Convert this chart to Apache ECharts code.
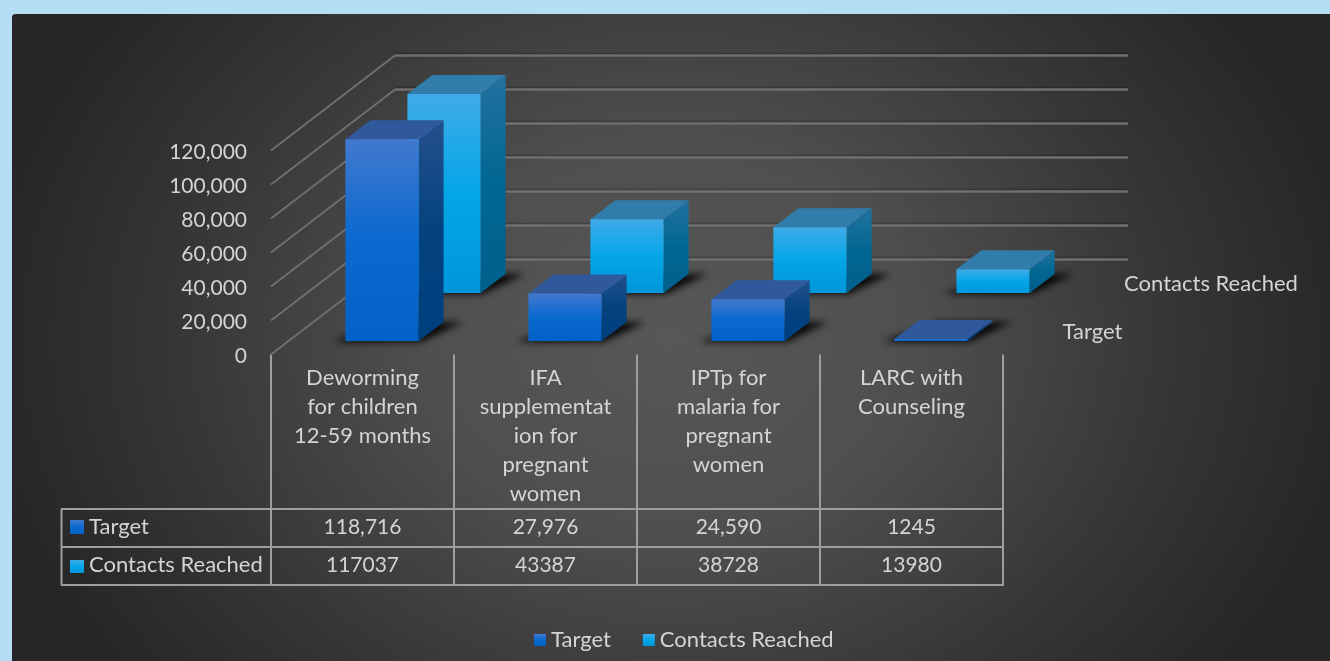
<!DOCTYPE html>
<html>
<head>
<meta charset="utf-8">
<style>html,body{margin:0;padding:0;background:#b5ddf3}#c{width:1330px;height:661px}</style>
<script src="https://cdn.jsdelivr.net/npm/echarts@6/dist/echarts.min.js"></script>
</head>
<body>
<div id="c"></div>
<script>
const categories = [
  'Deworming\nfor children\n12-59 months',
  'IFA\nsupplementat\nion for\npregnant\nwomen',
  'IPTp for\nmalaria for\npregnant\nwomen',
  'LARC with\nCounseling'
];
const targetValues = [118716, 27976, 24590, 1245];
const contactsValues = [117037, 43387, 38728, 13980];
const targetTableLabels = ['118,716', '27,976', '24,590', '1245'];
const contactsTableLabels = ['117037', '43387', '38728', '13980'];
const seriesNames = ['Target', 'Contacts Reached'];
const wallTicks = [0, 20000, 40000, 60000, 80000, 100000, 120000];

const FONT = 'Lato, "Open Sans", sans-serif';
const TEXT = '#d4d4d4';
const LINE = '#9e9e9e';
const v = (a, b, c) => ({type:'linear',x:0,y:0,x2:0,y2:1,colorStops:[{offset:0,color:a},{offset:.5,color:b},{offset:1,color:c}]});
const skins = {
  target: {front:v('#4179cf','#0a69cf','#0362c6'), side:v('#24508c','#04437f','#003f7e'), top:'#30599b', key:v('#3f78cf','#0a69cf','#0362c6')},
  contacts: {front:v('#40abe8','#03a6e8','#0096da'), side:v('#22719f','#006792','#00608c'), top:'#307dab', key:v('#3fabe8','#03a6e8','#0096da')}
};
const DX = 25, DY = 19, OFF = 3000;

function bar3d(skin, baseLift, shiftX) {
  return function (params, api) {
    const i = api.value(0);
    const centre = api.coord([i, 0]);
    const top = api.coord([i, api.value(1)]);
    const w = api.size([1, 0])[0] * 0.4;
    const x0 = centre[0] + shiftX - w / 2, x1 = x0 + w;
    const base = centre[1] - baseLift;
    const y1 = top[1] - baseLift;
    return {type:'group', children:[
      // blurred floor shadow: the shape sits off canvas and only its shadow lands on the floor
      {type:'polygon', shape:{points:[[x0-13-OFF,base+1],[x1+2-OFF,base+1],[x1+DX+19-OFF,base-DY],[x0+DX+19-OFF,base-DY]]},
        style:{fill:'#000', shadowBlur:7, shadowColor:'rgba(0,0,0,.9)', shadowOffsetX:OFF}},
      {type:'polygon', shape:{points:[[x1,base],[x1+DX,base-DY],[x1+DX,y1-DY],[x1,y1]]}, style:{fill:skin.side}},
      {type:'polygon', shape:{points:[[x0,y1],[x1,y1],[x1+DX,y1-DY],[x0+DX,y1-DY]]}, style:{fill:skin.top}},
      {type:'rect', shape:{x:x0,y:y1,width:w,height:Math.max(base-y1,1)}, style:{fill:skin.front}}
    ]};
  };
}

const option = {
  animation:false,
  backgroundColor:'#b5ddf3',
  textStyle:{fontFamily:FONT},
  graphic:{elements:[
    {type:'rect', z:-100, silent:true, x:671, y:338, scaleY:0.8,
      shape:{x:-659,y:-405,width:1400,height:900,r:4},
      style:{fill:new echarts.graphic.RadialGradient(0,0,690,[
        {offset:0,color:'#575757'},{offset:.35,color:'#4f4f4f'},{offset:.72,color:'#363636'},{offset:1,color:'#262626'}],true)}},
    ...[509,547,585].map(y=>({type:'line',z:1,silent:true,shape:{x1:61,y1:y,x2:1004,y2:y},style:{stroke:LINE,lineWidth:2}})),
    {type:'line',z:1,silent:true,shape:{x1:61.5,y1:509,x2:61.5,y2:585},style:{stroke:LINE,lineWidth:2}},
    {type:'rect',z:2,silent:true,shape:{x:70,y:520,width:14,height:14},style:{fill:skins.target.key}},
    {type:'rect',z:2,silent:true,shape:{x:70,y:560,width:14,height:13},style:{fill:skins.contacts.key}},
    {type:'text',z:2,silent:true,x:89,y:527,style:{text:seriesNames[0],font:'22px '+FONT,fill:TEXT,verticalAlign:'middle'}},
    {type:'text',z:2,silent:true,x:89,y:565,style:{text:seriesNames[1],font:'22px '+FONT,fill:TEXT,verticalAlign:'middle'}},
    {type:'text',z:2,silent:true,x:1092.5,y:332,style:{text:seriesNames[0],font:'22px '+FONT,fill:TEXT,align:'center',verticalAlign:'middle'}},
    {type:'text',z:2,silent:true,x:1211,y:284,style:{text:seriesNames[1],font:'22px '+FONT,fill:TEXT,align:'center',verticalAlign:'middle'}}
  ]},
  legend:{
    data:seriesNames, left:529, top:624, itemWidth:12, itemHeight:12, itemGap:32, icon:'rect',
    textStyle:{color:TEXT,fontSize:22,fontFamily:FONT}
  },
  grid:[
    {left:271, width:732, top:150.5, height:204},
    {left:395, width:733, top:55.5, height:204}
  ],
  xAxis:[
    {type:'category', gridIndex:0, data:categories,
      axisLine:{show:false},
      axisTick:{show:true,length:230,lineStyle:{color:LINE,width:2}},
      axisLabel:{color:TEXT,fontSize:22,fontFamily:FONT,lineHeight:29,margin:9,interval:0,verticalAlign:'top'}},
    {type:'category', gridIndex:1, data:categories, show:false}
  ],
  yAxis:[
    {type:'value', gridIndex:0, min:0, max:120000, interval:20000,
      axisLine:{show:false}, axisTick:{show:false}, splitLine:{show:false},
      axisLabel:{color:TEXT,fontSize:21,fontFamily:FONT,margin:24,verticalAlign:'top',lineHeight:3}},
    {type:'value', gridIndex:1, min:0, max:120000, interval:20000,
      axisLine:{show:false}, axisTick:{show:false}, axisLabel:{show:false},
      splitLine:{show:true,lineStyle:{color:'#707070',width:2.5,shadowColor:'rgba(0,0,0,.35)',shadowBlur:2,shadowOffsetY:-1}}}
  ],
  series:[
    {name:'Walls', type:'custom', xAxisIndex:0, yAxisIndex:0, silent:true, z:1,
      data:wallTicks.map(t=>[0,t]), encode:{x:0,y:1},
      renderItem(params, api){
        const p = api.coord([0, api.value(1)]);
        const x = params.coordSys.x;
        return {type:'line', shape:{x1:x,y1:p[1],x2:x+124,y2:p[1]-95}, style:{stroke:'#707070',lineWidth:1.8}};
      }},
    {name:seriesNames[1], type:'custom', xAxisIndex:0, yAxisIndex:0, z:3, silent:true,
      itemStyle:{color:skins.contacts.key},
      data:contactsValues.map((d,i)=>[i,d]), encode:{x:0,y:1},
      renderItem:bar3d(skins.contacts, 61.5, 81.5)},
    {name:seriesNames[0], type:'custom', xAxisIndex:0, yAxisIndex:0, z:4, silent:true,
      itemStyle:{color:skins.target.key},
      data:targetValues.map((d,i)=>[i,d]), encode:{x:0,y:1},
      renderItem:bar3d(skins.target, 13.5, 19.5)},
    {name:'Table', type:'custom', xAxisIndex:0, yAxisIndex:0, z:5, silent:true,
      data:categories.map((c,i)=>[i,0]), encode:{x:0,y:1},
      renderItem(params, api){
        const i = api.value(0), x = api.coord([i,0])[0];
        const cell = (text,y)=>({type:'text',x,y,style:{text,font:'21px '+FONT,fill:TEXT,align:'center',verticalAlign:'middle'}});
        return {type:'group',children:[cell(targetTableLabels[i],527),cell(contactsTableLabels[i],565)]};
      }}
  ]
};
echarts.init(document.getElementById('c')).setOption(option);
</script>
</body>
</html>
